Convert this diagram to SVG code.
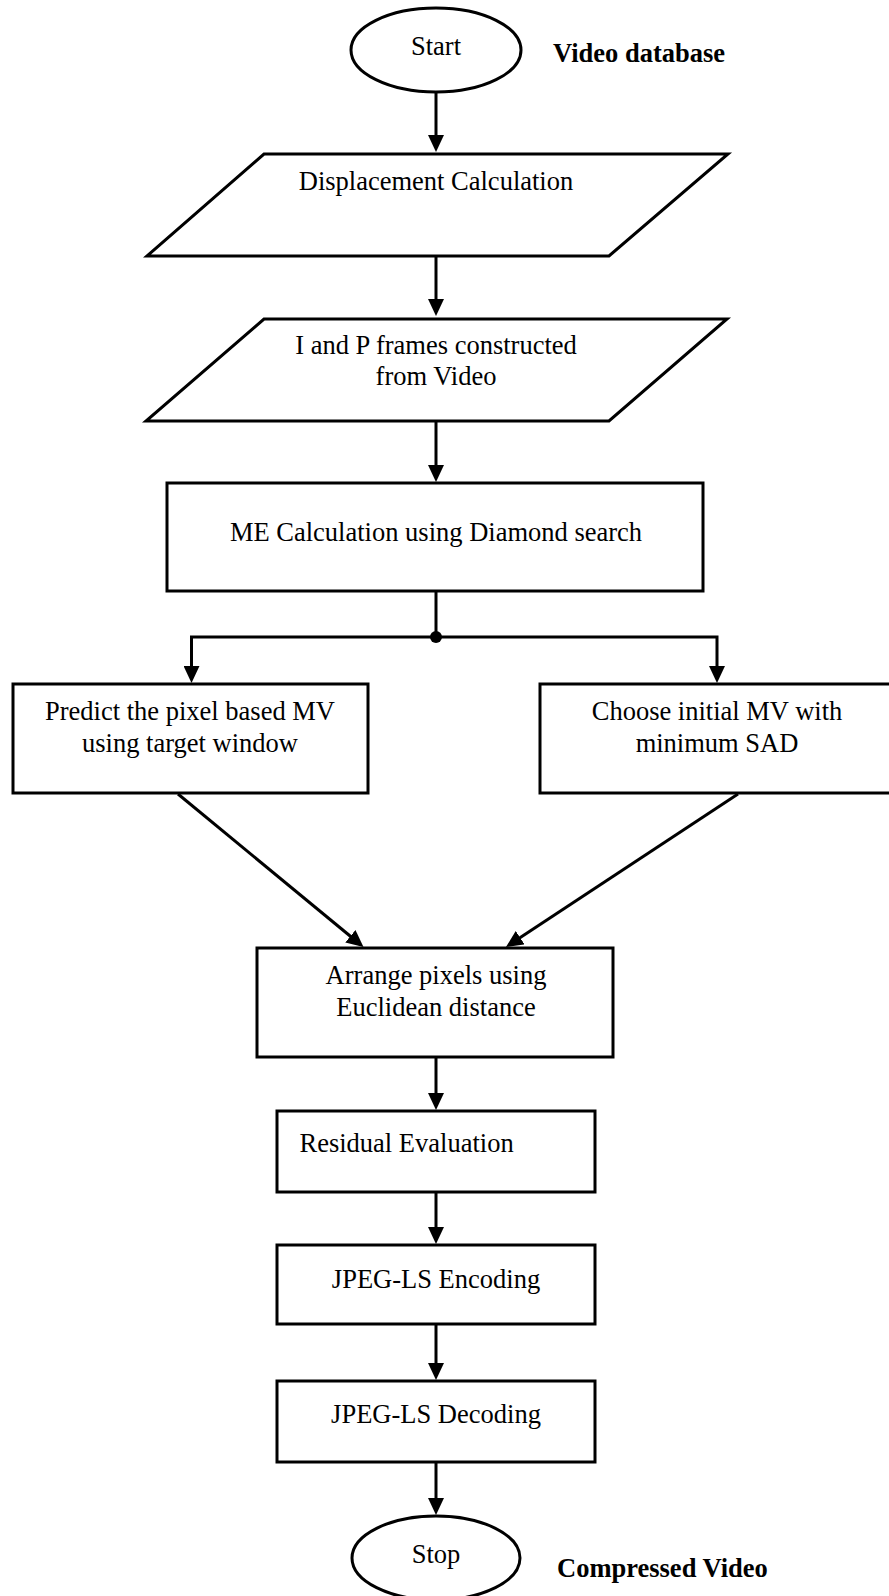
<svg xmlns="http://www.w3.org/2000/svg" width="889" height="1596" viewBox="0 0 889 1596">
<style>
.s{fill:#fff;stroke:#000;stroke-width:3}
.t{font-family:"Liberation Serif","Times New Roman",serif;font-size:26.5px;fill:#000;text-anchor:middle}
.b{font-family:"Liberation Serif","Times New Roman",serif;font-size:26.5px;font-weight:bold;fill:#000}
.c{fill:none;stroke:#000;stroke-width:3}
</style>
<defs>
<marker id="ah" markerUnits="userSpaceOnUse" markerWidth="18" markerHeight="16" refX="13" refY="8" orient="auto">
<path d="M0,0 L17,8 L0,16 Z" fill="#000"/>
</marker>
</defs>
<rect width="889" height="1596" fill="#fff"/>
<g id="connectors">
<path class="c" d="M436,92 V148" marker-end="url(#ah)"/>
<path class="c" d="M436,256 V312" marker-end="url(#ah)"/>
<path class="c" d="M436,421 V478" marker-end="url(#ah)"/>
<path class="c" d="M436,591 V637"/>
<path class="c" d="M436,637 H191.5 V679" marker-end="url(#ah)"/>
<path class="c" d="M436,637 H717 V679" marker-end="url(#ah)"/>
<circle cx="436" cy="637" r="6" fill="#000"/>
<path class="c" d="M178,794 L360.4,944.5" marker-end="url(#ah)"/>
<path class="c" d="M738,794 L509.3,944.8" marker-end="url(#ah)"/>
<path class="c" d="M436,1057 V1106" marker-end="url(#ah)"/>
<path class="c" d="M436,1192 V1240" marker-end="url(#ah)"/>
<path class="c" d="M436,1324 V1376" marker-end="url(#ah)"/>
<path class="c" d="M436,1462 V1511" marker-end="url(#ah)"/>
</g>
<g id="start">
<ellipse class="s" cx="436" cy="50" rx="85" ry="42"/>
<text class="t" x="436" y="55">Start</text>
</g>
<text id="video-database" class="b" x="553" y="62">Video database</text>
<g id="displacement">
<polygon class="s" points="264,154 728,154 609,256 147,256"/>
<text class="t" x="436" y="190">Displacement Calculation</text>
</g>
<g id="frames">
<polygon class="s" points="264,319 727,319 609,421 146,421"/>
<text class="t" x="436" y="354">I and P frames constructed</text>
<text class="t" x="436" y="385">from Video</text>
</g>
<g id="me">
<rect class="s" x="167" y="483" width="536" height="108"/>
<text class="t" x="436" y="541">ME Calculation using Diamond search</text>
</g>
<g id="predict">
<rect class="s" x="13" y="684" width="355" height="109"/>
<text class="t" x="190" y="720">Predict the pixel based MV</text>
<text class="t" x="190" y="752">using target window</text>
</g>
<g id="choose">
<rect class="s" x="540" y="684" width="360" height="109"/>
<text class="t" x="717" y="720">Choose initial MV with</text>
<text class="t" x="717" y="752">minimum SAD</text>
</g>
<g id="arrange">
<rect class="s" x="257" y="948" width="356" height="109"/>
<text class="t" x="436" y="984">Arrange pixels using</text>
<text class="t" x="436" y="1016">Euclidean distance</text>
</g>
<g id="residual">
<rect class="s" x="277" y="1111" width="318" height="81"/>
<text class="t" x="299.5" y="1152" style="text-anchor:start">Residual Evaluation</text>
</g>
<g id="encoding">
<rect class="s" x="277" y="1245" width="318" height="79"/>
<text class="t" x="436" y="1288">JPEG-LS Encoding</text>
</g>
<g id="decoding">
<rect class="s" x="277" y="1381" width="318" height="81"/>
<text class="t" x="436" y="1423">JPEG-LS Decoding</text>
</g>
<g id="stop">
<ellipse class="s" cx="436" cy="1558" rx="84" ry="42"/>
<text class="t" x="436" y="1563">Stop</text>
</g>
<text id="compressed-video" class="b" x="557" y="1577">Compressed Video</text>
</svg>
